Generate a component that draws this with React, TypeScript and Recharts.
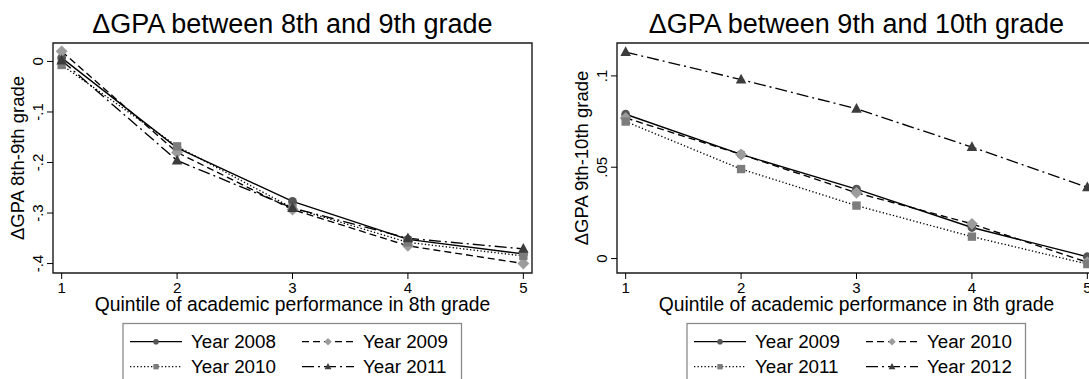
import { LineChart, Line, XAxis, YAxis, ReferenceArea, Label } from "recharts"

const quintiles = [1, 2, 3, 4, 5]

// change in GPA between 8th and 9th grade, by cohort
const cohorts89 = ["Year 2008", "Year 2009", "Year 2010", "Year 2011"]
const gpa89y2008 = [0.007, -0.171, -0.277, -0.352, -0.381]
const gpa89y2009 = [0.02, -0.18, -0.293, -0.365, -0.4]
const gpa89y2010 = [-0.007, -0.168, -0.29, -0.358, -0.385]
const gpa89y2011 = [0.002, -0.196, -0.29, -0.35, -0.371]
const ticks89 = [0, -0.1, -0.2, -0.3, -0.4]

// change in GPA between 9th and 10th grade, by cohort
const cohorts910 = ["Year 2009", "Year 2010", "Year 2011", "Year 2012"]
const gpa910y2009 = [0.079, 0.057, 0.038, 0.017, 0.001]
const gpa910y2010 = [0.077, 0.057, 0.036, 0.019, -0.002]
const gpa910y2011 = [0.075, 0.049, 0.029, 0.012, -0.003]
const gpa910y2012 = [0.113, 0.098, 0.082, 0.061, 0.039]
const ticks910 = [0, 0.05, 0.1]

const FONT = "'Liberation Sans', Arial, Helvetica, sans-serif"

// stata-ish line styles, one per series slot
const styles = [
  { dash: undefined, marker: "circle", fill: "#555555" },
  { dash: "7 4", marker: "diamond", fill: "#9c9c9c" },
  { dash: "1.3 2.2", marker: "square", fill: "#7c7c7c" },
  { dash: "12 4 2 4", marker: "triangle", fill: "#3c3c3c" }
]

const fmt = (v: number) => {
  if (v === 0) return "0"
  return String(Math.round(v * 1000) / 1000).replace("0.", ".")
}

function Marker({ kind, cx, cy, s, fill }: any) {
  if (cx == null || cy == null) return null
  if (kind === "circle") return <circle cx={cx} cy={cy} r={s} fill={fill} />
  if (kind === "diamond") {
    const d = s * 1.35
    return <polygon points={`${cx},${cy - d} ${cx + d},${cy} ${cx},${cy + d} ${cx - d},${cy}`} fill={fill} />
  }
  if (kind === "square") {
    const h = s * 0.95
    return <rect x={cx - h} y={cy - h} width={h * 2} height={h * 2} fill={fill} />
  }
  const t = s * 1.2
  return <polygon points={`${cx},${cy - t * 1.1} ${cx + t},${cy + t * 0.75} ${cx - t},${cy + t * 0.75}`} fill={fill} />
}

function YTick({ y, payload }: any) {
  return (
    <text x={43.5} y={y} transform={`rotate(-90 43.5 ${y})`} textAnchor="middle"
      fontSize={15} fill="#000" fontFamily={FONT}>
      {fmt(payload.value)}
    </text>
  )
}

function Panel({ left, title, yTitle, names, series, yDomain, yTicks }: any) {
  const data = quintiles.map((q, i) => {
    const row: any = { q }
    series.forEach((s: number[], k: number) => { row["s" + k] = s[i] })
    return row
  })

  return (
    <div style={{ position: "absolute", left, top: 0, width: 545, height: 379 }}>
      <LineChart width={545} height={379} data={data}
        margin={{ top: 43, right: 13, bottom: 0, left: 0 }}>
        <ReferenceArea x1={0.925} x2={5.075} y1={yDomain[0]} y2={yDomain[1]}
          fill="none" stroke="#1a1a1a" strokeWidth={1.4} ifOverflow="visible" />
        <XAxis dataKey="q" type="number" domain={[0.925, 5.075]} ticks={quintiles}
          allowDataOverflow height={106} tickSize={6} tickMargin={3} axisLine={false}
          tickLine={{ stroke: "#000" }} interval={0}
          tick={{ fontSize: 15, fill: "#000", fontFamily: FONT }}>
          <Label content={(p: any) => (
            <text x={p.viewBox.x + p.viewBox.width / 2} y={311} textAnchor="middle"
              fontSize={19.3} fill="#000" fontFamily={FONT}>
              Quintile of academic performance in 8th grade
            </text>
          )} />
        </XAxis>
        <YAxis type="number" domain={yDomain} ticks={yTicks} allowDataOverflow
          width={53} tickSize={6} axisLine={false} tickLine={{ stroke: "#000" }}
          interval={0} tick={<YTick />}>
          <Label content={() => (
            <text x={24} y={158} transform="rotate(-90 24 158)" textAnchor="middle"
              fontSize={18.5} fill="#000" fontFamily={FONT}>
              {yTitle}
            </text>
          )} />
        </YAxis>
        {names.map((name: string, k: number) => (
          <Line key={name} dataKey={"s" + k} name={name} stroke="#000" strokeWidth={1.35}
            strokeDasharray={styles[k].dash} isAnimationActive={false} activeDot={false}
            dot={(p: any) => (
              <Marker key={name + p.index} kind={styles[k].marker} cx={p.cx} cy={p.cy}
                s={4.4} fill={styles[k].fill} />
            )} />
        ))}
      </LineChart>

      <svg width={545} height={379} style={{ position: "absolute", left: 0, top: 0, pointerEvents: "none" }}>
        <text x={292.4} y={33} textAnchor="middle" fontSize={27} fill="#000" fontFamily={FONT}>
          {title}
        </text>
        <rect x={123} y={323.5} width={338.5} height={80} fill="none" stroke="#8a8a8a" strokeWidth={1.3} />
        {names.map((name: string, k: number) => {
          const col = k % 2
          const row = Math.floor(k / 2)
          const x0 = col === 0 ? 130 : 302
          const ly = 341.7 + row * 25
          return (
            <g key={name}>
              <line x1={x0} x2={x0 + 52} y1={ly} y2={ly} stroke="#000" strokeWidth={1.2}
                strokeDasharray={styles[k].dash} />
              <Marker kind={styles[k].marker} cx={x0 + 26} cy={ly} s={2.8} fill={styles[k].fill} />
              <text x={x0 + 61} y={ly + 6.5} fontSize={18.8} fill="#000" fontFamily={FONT}>{name}</text>
            </g>
          )
        })}
      </svg>
    </div>
  )
}

export default function App() {
  return (
    <div style={{ position: "absolute", left: 0, top: 0, width: 1089, height: 379, overflow: "hidden", background: "#fff" }}>
      <Panel left={0} title="ΔGPA between 8th and 9th grade" yTitle="ΔGPA 8th-9th grade"
        names={cohorts89} series={[gpa89y2008, gpa89y2009, gpa89y2010, gpa89y2011]}
        yDomain={[-0.4187, 0.0365]} yTicks={ticks89} />
      <Panel left={564} title="ΔGPA between 9th and 10th grade" yTitle="ΔGPA 9th-10th grade"
        names={cohorts910} series={[gpa910y2009, gpa910y2010, gpa910y2011, gpa910y2012]}
        yDomain={[-0.0079, 0.118]} yTicks={ticks910} />
    </div>
  )
}
